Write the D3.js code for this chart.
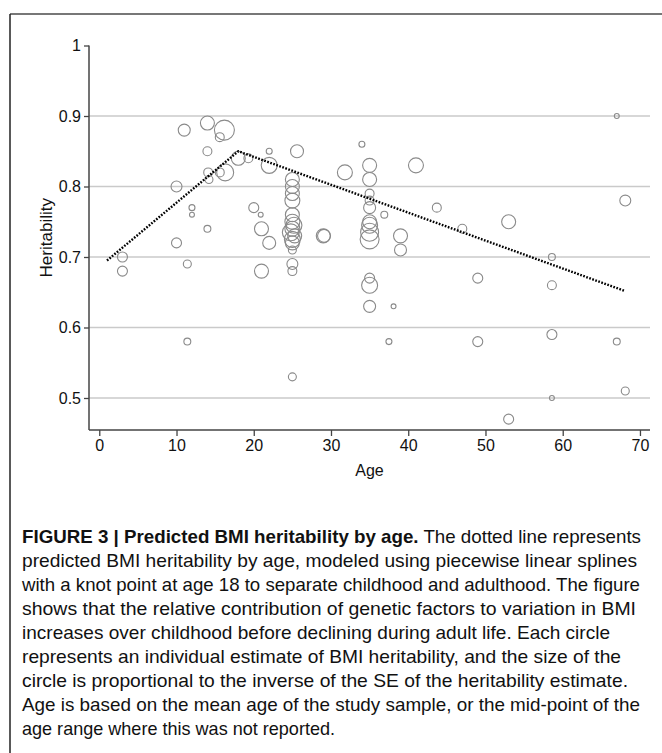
<!DOCTYPE html>
<html>
<head>
<meta charset="utf-8">
<script src="https://cdn.jsdelivr.net/npm/d3@7"></script>
<style>
  body { margin: 0; background: #fff; }
  svg { display: block; }
</style>
</head>
<body>
<svg width="662" height="753"></svg>
<script>
// study estimates: mean age, heritability, precision (1/SE, arbitrary units)
const ages = [3, 3, 11, 10, 10, 11.4, 12, 12, 14, 14, 16.2, 15.6, 14, 14.1, 14.2, 15.6, 16.3,
    18, 19.3, 20, 20.9, 21, 22, 21, 22, 22, 25.6, 11.4,
    25, 25, 25, 25, 25, 25, 25.2, 25, 24.8, 25.3, 25, 25, 25, 25, 25, 25,
    29, 29.1, 31.8, 34,
    35, 35, 35, 35, 35, 35, 35, 35, 35, 35, 35, 35,
    36.9, 38.1, 37.5, 39, 39, 41, 43.7, 47, 53, 49, 49, 53,
    58.6, 58.6, 58.6, 58.6, 67, 68.1, 67, 68.1];
const heritability = [0.70, 0.68, 0.88, 0.80, 0.72, 0.69, 0.77, 0.76, 0.74, 0.89, 0.88, 0.87, 0.85, 0.82, 0.81, 0.82, 0.82,
    0.84, 0.84, 0.77, 0.76, 0.74, 0.72, 0.68, 0.85, 0.83, 0.85, 0.58,
    0.81, 0.80, 0.79, 0.78, 0.76, 0.75, 0.745, 0.74, 0.735, 0.73, 0.725, 0.72, 0.71, 0.69, 0.68, 0.53,
    0.73, 0.73, 0.82, 0.86,
    0.83, 0.81, 0.79, 0.78, 0.77, 0.75, 0.745, 0.735, 0.725, 0.67, 0.66, 0.63,
    0.76, 0.63, 0.58, 0.73, 0.71, 0.83, 0.77, 0.74, 0.75, 0.67, 0.58, 0.47,
    0.70, 0.66, 0.59, 0.50, 0.90, 0.78, 0.58, 0.51];
const precision = [25, 25, 36, 30, 25, 16, 9, 6, 12, 49, 100, 20, 20, 20, 16, 20, 72,
    49, 20, 25, 6, 49, 42, 49, 9, 64, 42, 12,
    49, 49, 49, 56, 49, 56, 64, 56, 72, 49, 64, 49, 16, 30, 20, 16,
    49, 42, 56, 9,
    49, 49, 20, 20, 36, 49, 64, 81, 90, 25, 64, 36,
    12, 6, 9, 49, 36, 56, 20, 20, 49, 25, 25, 25,
    12, 20, 25, 6, 6, 30, 12, 16];

// fitted piecewise linear spline (knot at 18)
const splineAges = [1, 18, 68];
const splineValues = [0.695, 0.85, 0.652];

const xTicks = [0, 10, 20, 30, 40, 50, 60, 70];
const yTicks = [0.5, 0.6, 0.7, 0.8, 0.9, 1];

const captionBold = "FIGURE 3 | Predicted BMI heritability by age.";
const captionLines = [
    " The dotted line represents",
    "predicted BMI heritability by age, modeled using piecewise linear splines",
    "with a knot point at age 18 to separate childhood and adulthood. The figure",
    "shows that the relative contribution of genetic factors to variation in BMI",
    "increases over childhood before declining during adult life. Each circle",
    "represents an individual estimate of BMI heritability, and the size of the",
    "circle is proportional to the inverse of the SE of the heritability estimate.",
    "Age is based on the mean age of the study sample, or the mid-point of the",
    "age range where this was not reported."
];

const svg = d3.select("svg");
const font = "'Liberation Sans', Arial, sans-serif";

// frame
svg.append("line").attr("x1", 10).attr("x2", 662).attr("y1", 14).attr("y2", 14)
    .attr("stroke", "#777").attr("stroke-width", 2);
svg.append("line").attr("x1", 10).attr("x2", 10).attr("y1", 14).attr("y2", 753)
    .attr("stroke", "#222").attr("stroke-width", 1.5);

const x = d3.scaleLinear().domain([-1.33, 71.3]).range([89, 650]);
const y = d3.scaleLinear().domain([0.4546, 1]).range([430, 45.5]);
const r = d3.scaleSqrt().domain([0, 100]).range([0, 10]);

// grid lines
svg.append("g")
    .selectAll("line")
    .data(yTicks.filter(t => t < 1))
    .enter().append("line")
    .attr("x1", x.range()[0]).attr("x2", x.range()[1])
    .attr("y1", d => y(d)).attr("y2", d => y(d))
    .attr("stroke", "#cacaca").attr("stroke-width", 1.5);

// axes
const yAxis = svg.append("g")
    .attr("transform", `translate(${x.range()[0]},0)`)
    .call(d3.axisLeft(y).tickValues(yTicks).tickSize(5).tickPadding(3)
        .tickFormat(d => d === 1 ? "1" : d3.format(".1f")(d)));
const xAxis = svg.append("g")
    .attr("transform", `translate(0,${y.range()[0]})`)
    .call(d3.axisBottom(x).tickValues(xTicks).tickSize(6).tickPadding(4));

[xAxis, yAxis].forEach(g => {
    g.select(".domain").remove();
    g.attr("font-size", null).attr("font-family", null);
    g.selectAll(".tick line").attr("stroke", "#444").attr("stroke-width", 1.3);
    g.selectAll(".tick text").attr("fill", "#111")
        .style("font-family", font).style("font-size", "16px");
});
svg.append("line")
    .attr("x1", x.range()[0]).attr("x2", x.range()[0])
    .attr("y1", y.range()[0]).attr("y2", y.range()[1])
    .attr("stroke", "#444").attr("stroke-width", 1.5);
svg.append("line")
    .attr("x1", x.range()[0]).attr("x2", x.range()[1])
    .attr("y1", y.range()[0]).attr("y2", y.range()[0])
    .attr("stroke", "#444").attr("stroke-width", 1.5);

svg.append("text")
    .attr("x", (x.range()[0] + x.range()[1]) / 2).attr("y", 476)
    .attr("text-anchor", "middle")
    .style("font-family", font).style("font-size", "16px").attr("fill", "#111")
    .text("Age");
svg.append("text")
    .attr("transform", `translate(52,${(y.range()[0] + y.range()[1]) / 2}) rotate(-90)`)
    .attr("text-anchor", "middle")
    .style("font-family", font).style("font-size", "17px").attr("fill", "#111")
    .text("Heritability");

// circles
const points = ages.map((a, i) => ({age: a, h: heritability[i], p: precision[i]}));
svg.append("g")
    .selectAll("circle")
    .data(points)
    .enter().append("circle")
    .attr("cx", d => x(d.age))
    .attr("cy", d => y(d.h))
    .attr("r", d => r(d.p))
    .attr("fill", "none")
    .attr("stroke", "#8a8a8a")
    .attr("stroke-width", 1.1);

// predicted line
const line = d3.line().x(d => x(d[0])).y(d => y(d[1]));
svg.append("path")
    .datum(splineAges.map((a, i) => [a, splineValues[i]]))
    .attr("d", line)
    .attr("fill", "none")
    .attr("stroke", "#000")
    .attr("stroke-width", 2.4)
    .attr("stroke-dasharray", "1.7,1.5");

// caption: a condensed face is not installed, so squeeze a regular one
// to the right edge each line reaches in the figure
const capFont = "'Liberation Sans', Arial, sans-serif";
const capLeft = 22;
const capRight = [641, 637, 640, 636, 610, 621, 628, 640, 335];
const cap = svg.append("g");
captionLines.forEach((t, i) => {
    const el = cap.append("text")
        .attr("x", capLeft).attr("y", 543 + i * 24)
        .style("font-family", capFont).attr("fill", "#111")
        .style("font-size", "18.5px")
        .attr("textLength", capRight[i] - capLeft)
        .attr("lengthAdjust", "spacingAndGlyphs");
    if (i === 0) {
        el.append("tspan").style("font-weight", "bold").text(captionBold);
    }
    el.append("tspan").text(t);
});
</script>
</body>
</html>
